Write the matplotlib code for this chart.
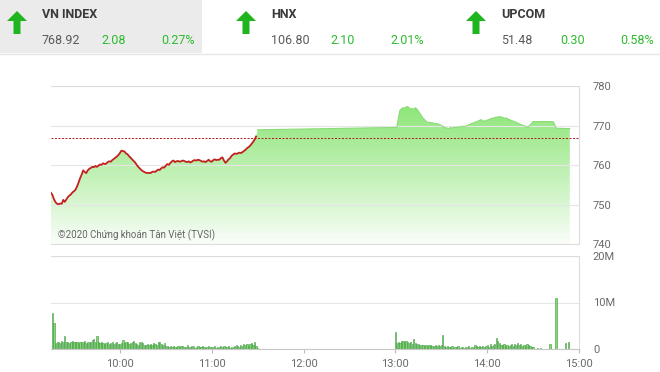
import numpy as np
import matplotlib.pyplot as plt
from matplotlib.patches import Polygon, Rectangle

plt.rcParams['font.family'] = ['Roboto', 'DejaVu Sans']

# %% header data
idx_names = ['VN INDEX', 'HNX', 'UPCOM']
idx_values = ['768.92', '106.80', '51.48']
idx_changes = ['2.08', '2.10', '0.30']
idx_pct = ['0.27%', '2.01%', '0.58%']
ref_price = 766.84

# %% intraday index (morning line, minute by minute)
am_time = ['09:15', '09:16', '09:17', '09:18', '09:19', '09:20', '09:21', '09:22', '09:23', '09:24',
           '09:25', '09:26', '09:27', '09:28', '09:29', '09:30', '09:31', '09:32', '09:33', '09:34',
           '09:35', '09:36', '09:37', '09:38', '09:39', '09:40', '09:41', '09:42', '09:43', '09:44',
           '09:45', '09:46', '09:47', '09:48', '09:49', '09:50', '09:51', '09:52', '09:53', '09:54',
           '09:55', '09:56', '09:57', '09:58', '09:59', '10:00', '10:01', '10:02', '10:03', '10:04',
           '10:05', '10:06', '10:07', '10:08', '10:09', '10:10', '10:11', '10:12', '10:13', '10:14',
           '10:15', '10:16', '10:17', '10:18', '10:19', '10:20', '10:21', '10:22', '10:23', '10:24',
           '10:25', '10:26', '10:27', '10:28', '10:29', '10:30', '10:31', '10:32', '10:33', '10:34',
           '10:35', '10:36', '10:37', '10:38', '10:39', '10:40', '10:41', '10:42', '10:43', '10:44',
           '10:45', '10:46', '10:47', '10:48', '10:49', '10:50', '10:51', '10:52', '10:53', '10:54',
           '10:55', '10:56', '10:57', '10:58', '10:59', '11:00', '11:01', '11:02', '11:03', '11:04',
           '11:05', '11:06', '11:07', '11:08', '11:09', '11:10', '11:11', '11:12', '11:13', '11:14',
           '11:15', '11:16', '11:17', '11:18', '11:19', '11:20', '11:21', '11:22', '11:23', '11:24',
           '11:25', '11:26', '11:27', '11:28', '11:29']
am_price = [753.0, 752.4, 751.3, 750.6, 750.2, 750.1, 750.3, 750.2, 751.2, 750.7,
            751.3, 751.9, 752.3, 752.6, 753.1, 753.4, 753.8, 754.6, 755.6, 756.7,
            757.6, 758.7, 758.3, 758.0, 758.7, 759.1, 759.3, 759.6, 759.5, 759.8,
            759.6, 759.9, 760.2, 760.1, 760.5, 760.3, 760.4, 760.8, 761.0, 760.9,
            761.3, 761.6, 761.9, 762.2, 762.6, 763.1, 763.7, 763.6, 763.5, 763.0,
            762.8, 762.3, 761.9, 761.5, 761.1, 760.7, 760.1, 759.6, 759.2, 758.8,
            758.5, 758.3, 758.1, 758.0, 758.1, 758.0, 758.3, 758.4, 758.3, 758.6,
            758.9, 758.8, 759.2, 759.5, 759.4, 759.9, 760.3, 760.1, 760.6, 761.0,
            761.2, 760.8, 761.0, 761.1, 760.9, 761.0, 761.2, 761.1, 760.9, 760.8,
            761.0, 760.7, 760.9, 761.2, 761.3, 761.2, 761.4, 761.3, 761.1, 760.9,
            761.0, 760.8, 761.1, 761.4, 761.0, 760.9, 761.3, 761.5, 761.3, 761.4,
            761.4, 761.8, 762.0, 761.2, 760.6, 761.0, 761.5, 761.8, 762.4, 762.7,
            763.0, 762.9, 763.0, 763.2, 763.1, 763.3, 763.6, 763.9, 764.3, 764.6,
            764.9, 765.4, 765.9, 766.5, 767.3]

# afternoon (area only)
pm_time = ['11:30', '13:00', '13:01', '13:02', '13:03', '13:04', '13:05', '13:06', '13:07', '13:08',
           '13:09', '13:10', '13:11', '13:12', '13:13', '13:14', '13:15', '13:16', '13:17', '13:18',
           '13:19', '13:20', '13:21', '13:22', '13:24', '13:26', '13:28', '13:30', '13:32', '13:34',
           '13:35', '13:36', '13:37', '13:38', '13:40', '13:42', '13:44', '13:46', '13:48', '13:50',
           '13:52', '13:54', '13:56', '13:57', '13:59', '14:01', '14:03', '14:05', '14:07', '14:09',
           '14:11', '14:13', '14:15', '14:17', '14:19', '14:21', '14:23', '14:25', '14:26', '14:27',
           '14:29', '14:30', '14:43', '14:44', '14:45', '14:54']
pm_price = [769.0, 769.6, 769.7, 772.0, 774.0, 774.3, 774.6, 774.5, 774.8, 774.9,
            774.6, 774.3, 774.4, 774.2, 774.6, 774.3, 773.8, 773.2, 772.6, 772.0,
            771.6, 771.2, 770.9, 770.9, 770.8, 770.6, 770.5, 770.1, 769.6, 769.4,
            769.3, 769.6, 769.4, 769.6, 769.6, 769.7, 769.9, 769.9, 770.3, 770.6,
            770.9, 771.2, 771.6, 771.2, 771.3, 771.6, 771.9, 772.1, 772.3, 772.3,
            772.0, 771.9, 771.5, 771.2, 770.9, 770.5, 770.2, 769.9, 769.6, 769.8,
            770.6, 771.1, 771.1, 770.5, 769.4, 769.3]

# %% volume (millions), one bar per minute
vol_am_start = '09:16'
vol_am = [7.8, 5.6, 1.2, 1.4, 1.6,
          1.3, 1.7, 1.5, 2.8, 1.4, 1.6, 1.3, 1.5, 1.7, 1.4,
          1.6, 1.5, 1.3, 1.6, 1.4, 1.5, 1.7, 1.3, 1.5, 1.4,
          1.6, 1.9, 2.1, 1.4, 2.8, 1.5, 1.2, 1.4, 1.3, 1.1,
          1.2, 1.4, 1.0, 1.3, 1.5, 1.1, 1.2, 1.4, 1.0, 1.1,
          1.3, 1.9, 1.2, 1.5, 1.4, 1.1, 1.3, 1.6, 1.7, 1.2,
          1.0, 0.9, 1.4, 1.6, 1.2, 0.8, 0.9, 1.1, 0.8, 1.0,
          0.9, 1.2, 1.0, 0.8, 1.5, 1.4, 1.1, 0.8, 1.2, 0.7,
          0.6, 0.5, 0.6, 0.5, 0.7, 0.5, 0.4, 0.6, 0.5, 0.7,
          0.6, 0.4, 0.5, 0.8, 0.5, 0.4, 0.6, 0.7, 0.3, 0.5,
          0.6, 0.4, 0.5, 0.7, 0.4, 0.3, 0.5, 0.6, 0.4, 0.5,
          0.4, 0.6, 0.3, 0.5, 0.4, 0.6, 0.5, 0.7, 0.4, 0.5,
          0.6, 0.3, 0.5, 0.4, 0.6, 0.8, 0.7, 0.5, 0.9, 0.7,
          1.0, 0.8, 1.1, 0.6, 1.0, 1.2, 0.9, 1.4, 0.7, 0.3]
vol_pm_start = '13:00'
vol_pm = [3.6, 1.2, 1.6, 1.3, 1.7, 1.8, 1.5, 1.7, 1.6, 1.3,
          1.5, 1.1, 2.2, 1.2, 1.0, 1.1, 0.9, 0.8, 0.9, 0.7,
          0.8, 0.7, 0.9, 0.8, 0.6, 0.7, 0.8, 0.7, 0.9, 0.6,
          0.8, 3.0, 0.6, 0.5, 0.7, 0.4, 0.5, 0.6, 0.3, 0.5,
          0.4, 0.6, 0.3, 0.5, 0.4, 0.3, 0.5, 0.4, 0.6, 0.3,
          0.5, 0.4, 0.8, 0.6, 0.5, 0.7, 0.4, 0.6, 0.5, 0.7,
          0.8, 0.5, 1.0, 0.6, 0.9, 1.1, 2.4, 1.8, 1.3, 0.9,
          0.8, 1.0, 0.7, 0.9, 0.6, 0.8, 1.0, 0.7, 1.1, 0.9,
          1.2, 0.8, 1.0, 0.6, 0.9, 0.7, 1.1, 0.8, 0.6, 0.5,
          0.4, 0.0, 0.0, 0.2, 0.0, 0.3, 0.0, 0.0, 0.0, 0.0,
          0.0, 1.1, 0.0, 0.0, 0.0, 11.0, 0.0, 0.0, 0.0, 0.0,
          0.0, 1.3, 0.0, 1.6]

hour_labels = ['10:00', '11:00', '12:00', '13:00', '14:00', '15:00']
price_ticks = [740, 750, 760, 770, 780]


def to_min(s):
    h, m = s.split(':')
    return (int(h) - 9) * 60 + int(m)


am_t = np.array([to_min(s) for s in am_time])
pm_t = np.array([to_min(s) for s in pm_time])
all_t = np.concatenate([am_t, pm_t])
all_p = np.concatenate([am_price, pm_price])

W, H = 660, 372
fig = plt.figure(figsize=(W / 100, H / 100), dpi=100)
fig.patch.set_facecolor('white')

# %% header strip
hdr = fig.add_axes([0, 1 - 56 / H, 1, 56 / H])
hdr.set_xlim(0, W)
hdr.set_ylim(56, 0)
hdr.axis('off')
hdr.add_patch(Rectangle((0, 0), 202, 53, color='#ebebeb', lw=0))
hdr.plot([0, W], [54, 54], color='#e6e6e6', lw=1)

x0s = [17, 246, 476]
for i in range(3):
    cx = x0s[i]
    arrow = [(cx, 11), (cx + 10, 21), (cx + 3.5, 21), (cx + 3.5, 34), (cx - 3.5, 34),
             (cx - 3.5, 21), (cx - 10, 21)]
    hdr.add_patch(Polygon(arrow, closed=True, color='#1eb51e', lw=0, joinstyle='round'))
    tx = cx + 25
    hdr.text(tx, 15, idx_names[i], fontsize=9, fontweight='bold', color='#3a3a3a', va='center')
    hdr.text(tx, 40, idx_values[i], fontsize=9, color='#5a5a5a', va='center')
    hdr.text(tx + 59, 40, idx_changes[i], fontsize=9, color='#2dbb2d', va='center')
    hdr.text(tx + 119, 40, idx_pct[i], fontsize=9, color='#2dbb2d', va='center')

# %% price panel
ax = fig.add_axes([51 / W, 1 - 244 / H, 528 / W, 157.5 / H])
ax.set_xlim(15, 360)
ax.set_ylim(740, 780)

# gradient fill under the curve
yy = np.linspace(740, 780, 300)
alpha = np.clip((yy - 740) / 35.0, 0, 1) ** 0.95 * 0.95 + 0.04
img = np.zeros((300, 2, 4))
img[..., 0] = 0.55
img[..., 1] = 0.90
img[..., 2] = 0.47
img[..., 3] = alpha[:, None]
poly = ax.fill_between(all_t, all_p, 740, color='none', lw=0)
im = ax.imshow(img, origin='lower', extent=(15, 360, 740, 780), aspect='auto', zorder=1)
im.set_clip_path(poly.get_paths()[0], ax.transData)

ax.plot(pm_t, pm_price, color='#8bdc78', lw=0.8, zorder=2)
ax.plot(am_t, am_price, color='#c42020', lw=1.3, zorder=3)
ax.axhline(ref_price, color='#b01a1a', lw=0.7, ls=(0, (2, 1.6)), zorder=4)

ax.set_yticks(price_ticks)
ax.yaxis.tick_right()
ax.tick_params(axis='y', length=0, pad=10, labelsize=8, labelcolor='#6a6a6a')
ax.set_xticks([])
ax.grid(axis='y', color='#e6e6e6', lw=0.8, zorder=0)
for s in ['top', 'right', 'bottom']:
    ax.spines[s].set_color('#dddddd')
ax.spines['left'].set_visible(False)
ax.text(0.013, 0.055, '©2020 Chứng khoán Tân Việt (TVSI)', transform=ax.transAxes,
        fontsize=7, color='#666666', va='center', zorder=5)

# %% volume panel
axv = fig.add_axes([51 / W, 1 - 349 / H, 528 / W, 93 / H])
axv.set_xlim(15, 360)
axv.set_ylim(0, 20)
t_am = np.arange(len(vol_am)) + to_min(vol_am_start)
t_pm = np.arange(len(vol_pm)) + to_min(vol_pm_start)
vt = np.concatenate([t_am, t_pm])
vv = np.concatenate([vol_am, vol_pm])
keep = vv > 0
axv.bar(vt[keep], vv[keep], width=0.8, color='#86d676', edgecolor='#3e9a3e', lw=0.4, zorder=2)

axv.set_yticks([0, 10, 20])
axv.set_yticklabels(['0', '10M', '20M'])
axv.yaxis.tick_right()
axv.tick_params(axis='y', length=0, pad=10, labelsize=8, labelcolor='#6a6a6a')
axv.set_xticks([to_min(s) for s in hour_labels])
axv.set_xticklabels(hour_labels)
axv.tick_params(axis='x', length=3, color='#bbbbbb', pad=4, labelsize=8, labelcolor='#6a6a6a')
axv.grid(axis='y', color='#e6e6e6', lw=0.8, zorder=0)
for s in ['top', 'right']:
    axv.spines[s].set_color('#dddddd')
axv.spines['bottom'].set_color('#c8c8c8')
axv.spines['left'].set_visible(False)

fig.savefig('out.png', dpi=100)
